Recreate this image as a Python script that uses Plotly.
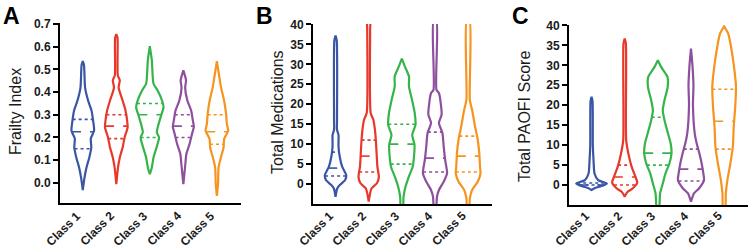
import numpy as np
import plotly.graph_objects as go

classes = ["Class 1", "Class 2", "Class 3", "Class 4", "Class 5"]
colors = ["#3A55A4", "#E8382B", "#35B449", "#8E4F9E", "#F7931E"]

# ---- Panel A: Frailty Index (density profiles: value, half-width) ----
A_vals = [
    [-0.032, 0.023, 0.068, 0.112, 0.156, 0.195, 0.23, 0.275, 0.319, 0.363, 0.42, 0.52, 0.537],
    [-0.006, 0.068, 0.112, 0.156, 0.2, 0.245, 0.275, 0.319, 0.363, 0.42, 0.452, 0.474, 0.64, 0.656],
    [0.038, 0.068, 0.112, 0.156, 0.2, 0.223, 0.252, 0.297, 0.334, 0.363, 0.407, 0.437, 0.54, 0.603],
    [-0.006, 0.083, 0.127, 0.171, 0.216, 0.248, 0.275, 0.319, 0.363, 0.42, 0.452, 0.496],
    [-0.058, 0.0, 0.068, 0.112, 0.156, 0.194, 0.23, 0.26, 0.304, 0.363, 0.42, 0.48, 0.537],
]
A_wid = [
    [0, 1.7, 3.7, 6.5, 8.5, 8, 11.3, 10.3, 8.7, 5.3, 2.3, 1.2, 0],
    [0, 1.7, 3.5, 6.3, 8.3, 11.3, 10.8, 9.2, 6.3, 2.3, 3.5, 1.5, 1.2, 0],
    [0, 2, 3.7, 6.7, 9.2, 7, 8.3, 11.3, 13.7, 12.2, 7.8, 3.7, 2, 0],
    [0, 2, 3, 6.2, 8.7, 10.5, 9.5, 7.8, 4, 1.8, 2.7, 0],
    [0, 1.2, 1.7, 4, 6.7, 7.3, 11.3, 10, 9.2, 7.2, 4.2, 2, 0],
]
A_q1 = [0.15, 0.195, 0.20, 0.20, 0.17]
A_med = [0.225, 0.25, 0.30, 0.25, 0.225]
A_q3 = [0.28, 0.30, 0.35, 0.30, 0.30]

# ---- Panel B: Total Medications ----
B_vals = [
    [-3.2, -1.1, -0.25, 1.0, 2.26, 4.35, 6.9, 9.4, 12.3, 13.6, 16.1, 36.0, 37.2],
    [-4.4, -1.1, 0.2, 1.8, 4.35, 7.7, 11.1, 13.6, 16.1, 17.8, 39.0, 41.0],
    [-6, -3.2, -0.7, 1.8, 4.35, 6.9, 9.8, 12.3, 14.8, 17.8, 21.1, 24.5, 27, 29.5, 31.4],
    [-6, -3.2, -1.5, 0.6, 2.7, 6.0, 9.4, 12.8, 15.3, 17.4, 20.3, 22.8, 23.6, 41],
    [-6, -3.6, -1.5, 0.6, 2.7, 4.35, 7.7, 11.1, 14.4, 18.6, 21.1, 41],
]
B_wid = [
    [0, 1.7, 4.3, 9.7, 10.8, 6.7, 4.2, 3, 3, 1.5, 1.5, 1.2, 0],
    [0, 2.8, 8.3, 10.3, 8.8, 8, 7.2, 6.3, 4.7, 2, 1.5, 1.5],
    [1, 1.7, 3.7, 7, 11, 12.3, 12.8, 10.5, 13.8, 13, 10.3, 7.2, 7.2, 3, 0],
    [1, 2, 4, 8.8, 12.2, 10.3, 8.8, 7.5, 4, 6.7, 5.8, 4, 1.5, 1.5],
    [1, 1.7, 4, 9.7, 12.5, 12, 11.3, 9.7, 7, 4, 1.7, 1.5],
]
B_q1 = [2, 3, 5, 3, 3]
B_med = [4, 7, 10, 6.5, 7]
B_q3 = [8, 11, 15, 13, 12]

# ---- Panel C: Total PAOFI Score ----
C_vals = [
    [-1.25, -0.8, -0.25, 0.4, 1.25, 2.9, 6.25, 10, 21, 22.1],
    [-2.9, -1.7, -0.8, 0.6, 2.1, 4.6, 7.9, 11.25, 35.5, 36.7],
    [-6, -2.1, 0.4, 2.9, 5.4, 7.9, 10.4, 12.9, 16.25, 18.75, 21.25, 24.6, 27.1, 29.6, 31.25],
    [-4.2, -2.1, -0.8, 1.25, 2.9, 5.4, 7.9, 10.4, 12.9, 20, 25, 30, 34.2],
    [-6, -2.1, 1.25, 5.4, 9.6, 14.6, 19.6, 24.6, 29.6, 34.6, 37.9, 39.8],
]
C_wid = [
    [0, 3, 10, 15.5, 6.7, 3, 2, 1.3, 1, 0],
    [0, 3, 8.3, 12.7, 10.8, 7, 3.7, 1.5, 1.2, 0],
    [1, 2.3, 5, 7.7, 11.7, 13.8, 13, 10.3, 6.7, 5, 6.7, 10, 9.7, 3.3, 0],
    [0, 3, 8.3, 13.2, 12.5, 10.8, 8.5, 5.8, 3.8, 2, 2.5, 1.5, 0],
    [1, 1.7, 3.3, 6.3, 8.8, 9.7, 11.2, 12, 10, 7, 4.2, 0],
]
C_q1 = [0, 0, 5, 1, 9]
C_med = [0, 2, 8, 4, 16]
C_q3 = [0.5, 5, 17, 9, 24]

WIDTH_SCALE = 1 / 33.5  # density width -> category units

W, H = 750, 249
panels = [
    dict(vals=A_vals, wid=A_wid, q1=A_q1, med=A_med, q3=A_q3, title="Frailty Index",
         yr=[-0.089, 0.705], ticks=[0, 0.1, 0.2, 0.3, 0.4, 0.5, 0.6, 0.7], fmt=".1f",
         xpx=[60, 241], ypx=[23, 203], letter="A", tx=15, ty=112),
    dict(vals=B_vals, wid=B_wid, q1=B_q1, med=B_med, q3=B_q3, title="Total Medications",
         yr=[-5, 40.1], ticks=[0, 5, 10, 15, 20, 25, 30, 35, 40], fmt="d",
         xpx=[313, 492], ypx=[24, 204], letter="B", tx=277, ty=112),
    dict(vals=C_vals, wid=C_wid, q1=C_q1, med=C_med, q3=C_q3, title="Total PAOFI Score",
         yr=[-5, 40.1], ticks=[0, 5, 10, 15, 20, 25, 30, 35, 40], fmt="d",
         xpx=[569, 748], ypx=[25, 205], letter="C", tx=524, ty=117),
]
XR = [-0.68, 4.72]
LABEL_TOP = 206  # pixel row where rotated category labels start

fig = go.Figure()
FONT = "Liberation Sans, Arial, sans-serif"

for p_i, p in enumerate(panels):
    sfx = "" if p_i == 0 else str(p_i + 1)
    xa, ya = "x" + sfx, "y" + sfx
    for c in range(5):
        v = np.array(p["vals"][c], dtype=float)
        w = np.array(p["wid"][c], dtype=float) * WIDTH_SCALE
        xs = np.concatenate([c + w, (c - w)[::-1], [c + w[0]]])
        ys = np.concatenate([v, v[::-1], [v[0]]])
        fig.add_trace(go.Scatter(x=xs, y=ys, mode="lines", xaxis=xa, yaxis=ya,
                                 line=dict(color=colors[c], width=2.2, shape="spline", smoothing=0.6),
                                 hoverinfo="skip", showlegend=False))
        for q, dash in ((p["q1"][c], "dot"), (p["med"][c], "dash"), (p["q3"][c], "dot")):
            hw = np.interp(q, v, w)
            fig.add_trace(go.Scatter(x=[c - hw, c + hw], y=[q, q], mode="lines", xaxis=xa, yaxis=ya,
                                     line=dict(color=colors[c], width=1.6, dash=dash),
                                     hoverinfo="skip", showlegend=False))
    xkey = "xaxis" + sfx
    ykey = "yaxis" + sfx
    xd = [p["xpx"][0] / W, p["xpx"][1] / W]
    yd = [1 - p["ypx"][1] / H, 1 - p["ypx"][0] / H]
    fig.update_layout(**{
        xkey: dict(domain=xd, anchor=ya, range=XR, tickmode="array",
                   tickvals=list(range(5)), showticklabels=False, automargin=False,
                   showline=True, linecolor="black", linewidth=2, ticks="",
                   showgrid=False, zeroline=False, fixedrange=True),
        ykey: dict(domain=yd, anchor=xa, range=p["yr"], tickmode="array",
                   tickvals=p["ticks"], tickformat=p["fmt"], automargin=False,
                   showline=True, linecolor="black", linewidth=2, ticks="outside",
                   ticklen=5, tickwidth=2, tickcolor="black", showgrid=False, zeroline=False,
                   fixedrange=True,
                   tickfont=dict(family=FONT, size=12, color="#1a1a1a", weight="bold")),
    })
    # rotated category labels placed in data coordinates of the x axis
    for c, lab in enumerate(classes):
        fig.add_annotation(xref=xa, yref="paper", x=c, y=1 - LABEL_TOP / H,
                           text="<b>" + lab + "</b>", showarrow=False, textangle=-45,
                           xanchor="right", yanchor="top", xshift=3,
                           font=dict(family=FONT, size=12, color="#1a1a1a"))
    fig.add_annotation(xref="paper", yref="paper", x=(p["xpx"][0] - 59) / W, y=1 - 1 / H,
                       text="<b>" + p["letter"] + "</b>", showarrow=False,
                       xanchor="left", yanchor="top",
                       font=dict(family=FONT, size=23, color="black"))
    fig.add_annotation(xref="paper", yref="paper", x=p["tx"] / W, y=1 - p["ty"] / H, text=p["title"],
                       showarrow=False, textangle=-90, xanchor="center", yanchor="middle",
                       font=dict(family=FONT, size=16, color="#1a1a1a"))

fig.update_layout(width=W, height=H, margin=dict(l=0, r=0, t=0, b=0, autoexpand=False),
                  template="none", paper_bgcolor="white", plot_bgcolor="white")
fig.write_html("out.html", config={"displayModeBar": False},
               post_script="document.body.style.margin='0';")
